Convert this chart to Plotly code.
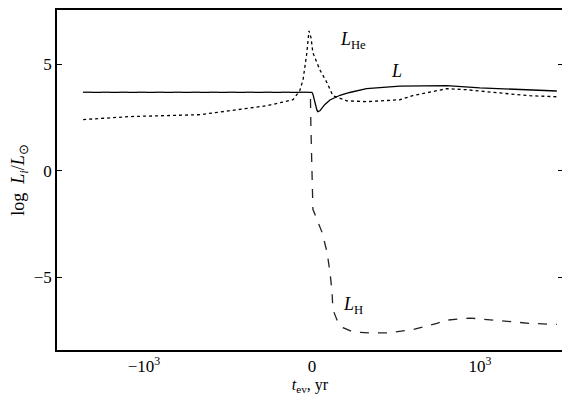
import numpy as np
import plotly.graph_objects as go

# Time since event (yr) and log luminosities
t_L = [-28000, -46, -0.29, -0.05, 0.0, 0.024, 0.07, 0.12, 0.14, 0.19, 0.24, 0.31, 0.43, 0.67, 0.9,
       2.0, 12.4, 64, 163, 1000, 10500, 68000]
logL = [3.69, 3.69, 3.69, 3.69, 3.69, 3.6, 3.2, 2.85, 2.78, 2.82, 2.95, 3.12, 3.33, 3.55, 3.68,
        3.86, 3.98, 4.0, 4.0, 3.9, 3.8, 3.75]

t_He = [-28000, -2150, -46, -7.6, -1.17, -0.45, -0.29, -0.21, -0.12, -0.07, -0.02, 0.024, 0.19, 0.36, 0.5,
        0.83, 2.0, 12.4, 25, 163, 490, 2540, 15500, 68000]
logLHe = [2.41, 2.55, 2.64, 2.83, 3.06, 3.34, 3.76, 4.28, 5.54, 6.57, 6.24, 5.54, 4.74, 4.14, 3.53,
          3.29, 3.25, 3.34, 3.53, 3.86, 3.81, 3.67, 3.53, 3.48]

t_H = [-28000, -0.29, -0.036, -0.024, -0.012, 0.0, 0.024, 0.12, 0.24, 0.36, 0.43, 0.48, 0.5, 0.6, 0.74,
       0.98, 2.4, 6.1, 25, 95, 163, 575, 2540, 15500, 68000]
logLH = [3.69, 3.69, 3.69, 2.1, 0.54, -1.0, -1.8, -2.27, -2.87, -3.8, -4.74, -5.68, -6.5, -7.0, -7.35,
         -7.55, -7.6, -7.6, -7.45, -7.15, -7.0, -6.9, -7.0, -7.15, -7.2]

x_tick_values = [-1000, 0, 1000]
x_tick_labels = ["\u221210<sup>3</sup>", "0", "10<sup>3</sup>"]
y_tick_values = [-5, 0, 5]
y_tick_labels = ["\u22125", "0", "5"]


def symlog(t, linthresh=1.0):
    t = np.asarray(t, dtype=float)
    a = np.abs(t)
    return np.where(a <= linthresh, t / linthresh,
                    np.sign(t) * (1 + np.log10(np.maximum(a, 1e-30) / linthresh)))


FONT = "Liberation Serif"
fig = go.Figure()
fig.add_trace(go.Scatter(x=symlog(t_L), y=logL, mode="lines",
                         line=dict(color="black", width=1.3), showlegend=False))
fig.add_trace(go.Scatter(x=symlog(t_He), y=logLHe, mode="lines",
                         line=dict(color="black", width=1.3, dash="dot"), showlegend=False))
fig.add_trace(go.Scatter(x=symlog(t_H), y=logLH, mode="lines",
                         line=dict(color="#222", width=1.3, dash="dash"), showlegend=False))

ann = dict(showarrow=False, font=dict(family=FONT, size=18, color="black"), xanchor="left", yanchor="middle")
fig.add_annotation(x=float(symlog(0.62)), y=6.1, text="<i>L</i><sub>He</sub>", **ann)
fig.add_annotation(x=float(symlog(7)), y=4.7, text="<i>L</i>", **ann)
fig.add_annotation(x=float(symlog(0.7)), y=-6.3, text="<i>L</i><sub>H</sub>", **ann)

# the page body has an 8px margin, so the figure is sized and placed to compensate
fig.update_layout(
    width=562, height=387,
    margin=dict(l=49, r=7, t=0, b=45),
    paper_bgcolor="white", plot_bgcolor="white",
    font=dict(family=FONT, size=17, color="black"),
    xaxis=dict(range=[-6.07, 5.98], tickmode="array",
               tickvals=symlog(x_tick_values).tolist(), ticktext=x_tick_labels,
               ticks="", showgrid=False, zeroline=False,
               showline=True, linecolor="black", linewidth=1.5, mirror=True,
               title=dict(text="<i>t</i><sub>ev</sub>, yr", font=dict(family=FONT, size=16), standoff=2)),
    yaxis=dict(range=[-8.4, 7.55], tickmode="array",
               tickvals=y_tick_values, ticktext=y_tick_labels,
               ticks="inside", ticklen=5, tickwidth=1.2, tickcolor="black",
               showgrid=False, zeroline=False,
               showline=True, linecolor="black", linewidth=1.5, mirror="ticks",
               title=dict(text="log  <i>L<sub>i</sub></i>/<i>L</i><sub>\u2299</sub>",
                          font=dict(family=FONT, size=18), standoff=12)),
)

fig.write_html("out.html")
